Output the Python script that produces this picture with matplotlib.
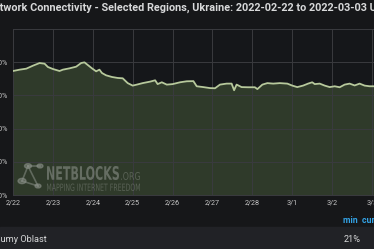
import matplotlib
matplotlib.use("Agg")

import matplotlib.dates as mdates
import matplotlib.pyplot as plt
import pandas as pd
from matplotlib.font_manager import FontProperties
from matplotlib.patches import PathPatch
from matplotlib.textpath import TextPath
from matplotlib.transforms import Affine2D, IdentityTransform

# ─── Data ───────────────────────────────────────────────────────────────
START = pd.Timestamp("2022-02-22 00:00")
HOURS = [0, 4, 8, 12, 16, 19, 21, 24, 28, 30, 34, 38, 41, 43, 45, 47.5,
         50, 52, 53.5, 56, 59.5, 63, 66, 69, 72, 74.5, 78, 82.5, 85.5, 87,
         89.5, 92.5, 96, 100.5, 104.5, 108.5, 110.5, 114.5, 118.5, 121.5,
         124.5, 128.5, 131.5, 133, 134.5, 137.5, 141.5, 145.5, 147, 150,
         153, 156.5, 160.5, 165, 168, 171, 174.5, 177.5, 180, 181.5, 184.5,
         187.5, 190.5, 193.5, 196.5, 199.5, 202.5, 205.5, 208.5, 211.5,
         214.5, 217.5]
SUMY = [94.7, 95.5, 96.1, 97.9, 99.5, 99.1, 97.1, 95.9, 94.7, 95.5, 96.3,
        97.3, 99.5, 99.9, 98.3, 96.3, 94.5, 95.5, 93.5, 92.1, 91.1, 90.5,
        90.3, 87.4, 85.9, 86.5, 87.4, 88.3, 89.1, 86.8, 87.9, 86.5, 86.8,
        87.9, 88.5, 88.6, 85.5, 85.0, 84.4, 84.3, 86.5, 87.1, 87.1, 83.1,
        86.5, 85.0, 84.9, 84.9, 83.8, 86.5, 87.4, 87.1, 87.4, 87.1, 85.9,
        85.0, 85.9, 87.1, 87.9, 86.8, 87.1, 85.9, 85.0, 85.5, 84.9, 86.5,
        87.1, 86.0, 87.1, 85.9, 85.5, 85.5]
DAY_TICKS = pd.date_range("2022-02-22", "2022-03-03", freq="D")
Y_TICKS = [20, 40, 60, 80, 100]
TITLE = "Network Connectivity - Selected Regions, Ukraine: 2022-02-22 to 2022-03-03 UTC"
SERIES_NAME = "Sumy Oblast"
SERIES_MIN = "21%"

# ─── Style ──────────────────────────────────────────────────────────────
BG = "#161719"
ROW_BG = "#212226"
GRID = "#3a3b3f"
TEXT = "#d8d9da"
TICK = "#c7c7c7"
LINE = "#b7c99c"
FILL = "#2f3a2a"
BLUE = "#33a2e5"
WM = "#8a9088"
FONT = ["Roboto", "DejaVu Sans"]

W, H = 374, 249
fig = plt.figure(figsize=(W / 100, H / 100), dpi=100, facecolor=BG)


def _px(x, y):
    """Пиксели от левого верхнего угла → доли фигуры."""
    return x / W, 1 - y / H


def _stretched_text(text, x0, y0, x1, y1, weight="normal", alpha=0.55):
    """Текст, вписанный в прямоугольник (узкий шрифт водяного знака)."""
    tp = TextPath((0, 0), text, size=10,
                  prop=FontProperties(family="DejaVu Sans", weight=weight))
    ext = tp.get_extents()
    sx = (x1 - x0) / ext.width
    sy = (y1 - y0) / ext.height
    tr = (Affine2D().translate(-ext.x0, -ext.y0).scale(sx, sy)
          .translate(x0, H - y1))
    fig.patches.append(PathPatch(tr.transform_path(tp), color=WM, lw=0,
                                 alpha=alpha, transform=IdentityTransform(),
                                 zorder=5))


ax = fig.add_axes([13 / W, (H - 195) / H, (W - 13) / W, (195 - 29) / H])
ax.set_facecolor("#15171a")

times = [START + pd.Timedelta(hours=h) for h in HOURS]
ax.fill_between(times, SUMY, 20, color=FILL, lw=0, zorder=1)
ax.plot(times, SUMY, color=LINE, lw=1.3, zorder=3)

ax.set_xlim(START, START + pd.Timedelta(days=361 / 39.9))
ax.set_ylim(20, 120)
ax.set_xticks(DAY_TICKS)
ax.xaxis.set_major_formatter(mdates.DateFormatter("%-m/%-d"))
ax.set_yticks(Y_TICKS)
ax.yaxis.set_major_formatter(lambda v, p: f"{v:.0f}%")
ax.grid(color=GRID, lw=0.7, zorder=2)
ax.tick_params(length=0, colors=TICK, labelsize=5.2)
ax.tick_params(axis="x", pad=3.5)
ax.tick_params(axis="y", pad=3.4)
for lab in ax.get_xticklabels() + ax.get_yticklabels():
    lab.set_family(FONT)
for sp in ax.spines.values():
    sp.set_color(GRID)
    sp.set_linewidth(0.7)
ax.spines["right"].set_visible(False)

# ─── Watermark ──────────────────────────────────────────────────────────
wm = dict(color=WM, alpha=0.55, transform=fig.transFigure, zorder=4)
for (x0, y0), (x1, y1) in [((22, 181), (28, 166)), ((28, 166), (40, 166)),
                           ((22, 181), (38, 186)), ((28, 166), (38, 186))]:
    ax.add_line(plt.Line2D(*zip(_px(x0, y0), _px(x1, y1)), lw=1.2, **wm))
for (cx, cy, r) in [(22, 181, 4), (28, 166, 3.5), (40, 166, 3), (38, 186, 3)]:
    ax.add_patch(plt.Circle(_px(cx, cy), r / W, **wm))
_stretched_text("NETBLOCKS", 47, 166, 119, 180, weight="bold", alpha=0.6)
_stretched_text(".ORG", 121, 172, 140, 180, alpha=0.45)
_stretched_text("MAPPING INTERNET FREEDOM", 47, 183.5, 140, 191, alpha=0.45)

# ─── Title (cropped on both sides as in the screenshot) ─────────────────
renderer = fig.canvas.get_renderer()
probe = fig.text(0, 0, "Ne", fontsize=7.85, fontweight="bold", family=FONT)
ne_w = probe.get_window_extent(renderer).width
probe.remove()
fig.text(-ne_w / W, 1 - 7.5 / H, TITLE, fontsize=7.85, fontweight="bold",
         family=FONT, color=TEXT, va="center", ha="left")

# ─── Legend table ───────────────────────────────────────────────────────
fig.patches.append(plt.Rectangle((0, 0), 1, (H - 227) / H,
                                 transform=fig.transFigure, color=ROW_BG,
                                 zorder=0))
fig.text(343 / W, 1 - 220 / H, "min  current", fontsize=6.3,
         fontweight="bold", family=FONT, color=BLUE, va="center")
fig.text(-5 / W, 1 - 239 / H, SERIES_NAME, fontsize=6.6, family=FONT,
         color=TEXT, va="center")
fig.text(344 / W, 1 - 239 / H, SERIES_MIN, fontsize=6.6, family=FONT,
         color=TEXT, va="center")

fig.savefig("out.png", dpi=100, facecolor=BG)
